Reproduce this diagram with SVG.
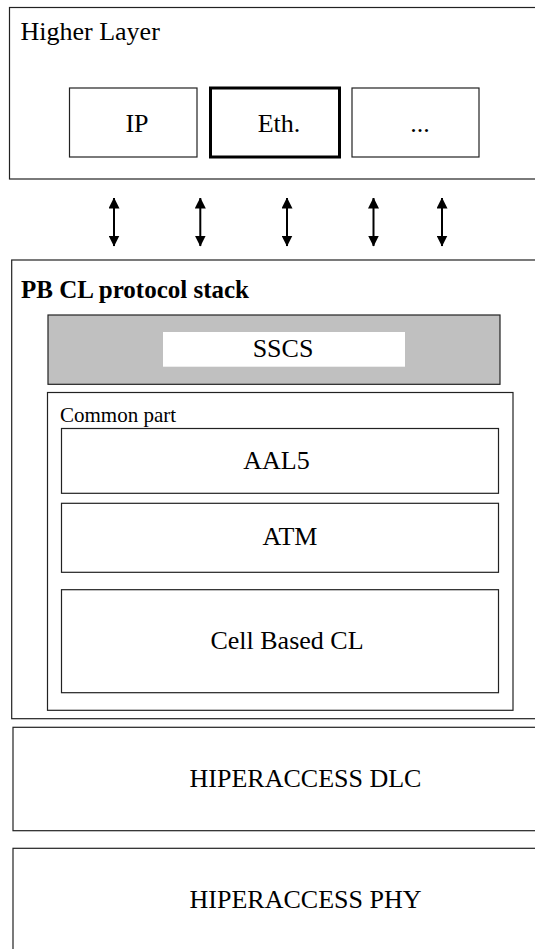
<svg xmlns="http://www.w3.org/2000/svg" width="535" height="949" viewBox="0 0 535 949">
<style>
rect{fill:#fff;stroke:#222;stroke-width:1.2}
text{font-family:"Liberation Serif","Times New Roman",serif;fill:#000;font-size:26px}
.c{text-anchor:middle}
.arr{stroke:#000;stroke-width:2;fill:none}
</style>
<defs>
<marker id="ah" viewBox="0 0 11 11" refX="10.5" refY="5.5" markerWidth="11" markerHeight="11" markerUnits="userSpaceOnUse" orient="auto-start-reverse">
<path d="M0,0 L11,5.5 L0,11 z" fill="#000"/>
</marker>
</defs>
<g id="higher-layer">
<rect x="9.5" y="7.5" width="540" height="171.5"/>
<text x="20.5" y="39.5">Higher Layer</text>
</g>
<g id="ip"><rect x="69.5" y="88" width="127.5" height="69"/><text class="c" x="137" y="131.5">IP</text></g>
<g id="eth"><rect x="210.5" y="88" width="129" height="69" style="stroke:#000;stroke-width:3"/><text class="c" x="279" y="131.5">Eth.</text></g>
<g id="dots"><rect x="352" y="88" width="127" height="69"/><text class="c" x="420" y="131.5">...</text></g>
<g id="connectors">
<line class="arr" x1="114" y1="198" x2="114" y2="246" marker-start="url(#ah)" marker-end="url(#ah)"/>
<line class="arr" x1="200.3" y1="198" x2="200.3" y2="246" marker-start="url(#ah)" marker-end="url(#ah)"/>
<line class="arr" x1="287" y1="198" x2="287" y2="246" marker-start="url(#ah)" marker-end="url(#ah)"/>
<line class="arr" x1="373.5" y1="198" x2="373.5" y2="246" marker-start="url(#ah)" marker-end="url(#ah)"/>
<line class="arr" x1="442" y1="198" x2="442" y2="246" marker-start="url(#ah)" marker-end="url(#ah)"/>
</g>
<g id="pb-cl">
<rect x="11.7" y="260" width="540" height="458.7"/>
<text x="21" y="297.5" style="font-weight:bold;font-size:25px">PB CL protocol stack</text>
</g>
<g id="sscs">
<rect x="48" y="315" width="452" height="69.3" style="fill:#c0c0c0"/>
<rect x="163" y="332" width="242" height="34.7" style="stroke:none"/>
<text class="c" x="283" y="356.5">SSCS</text>
</g>
<g id="common-part">
<rect x="47.5" y="392.5" width="465.5" height="317.8"/>
<text x="60" y="421.5" style="font-size:21px">Common part</text>
</g>
<g id="aal5"><rect x="61.5" y="428.5" width="437" height="64.8"/><text class="c" x="276.5" y="469.3">AAL5</text></g>
<g id="atm"><rect x="61.5" y="503.3" width="437" height="69"/><text class="c" x="290" y="545">ATM</text></g>
<g id="cell-based-cl"><rect x="61.5" y="589.7" width="437" height="103"/><text class="c" x="287" y="649.3">Cell Based CL</text></g>
<g id="dlc"><rect x="13" y="727.3" width="540" height="103.4"/><text class="c" x="305.5" y="786.7">HIPERACCESS DLC</text></g>
<g id="phy"><rect x="13" y="848.3" width="540" height="120"/><text class="c" x="305.5" y="907.7">HIPERACCESS PHY</text></g>
</svg>
